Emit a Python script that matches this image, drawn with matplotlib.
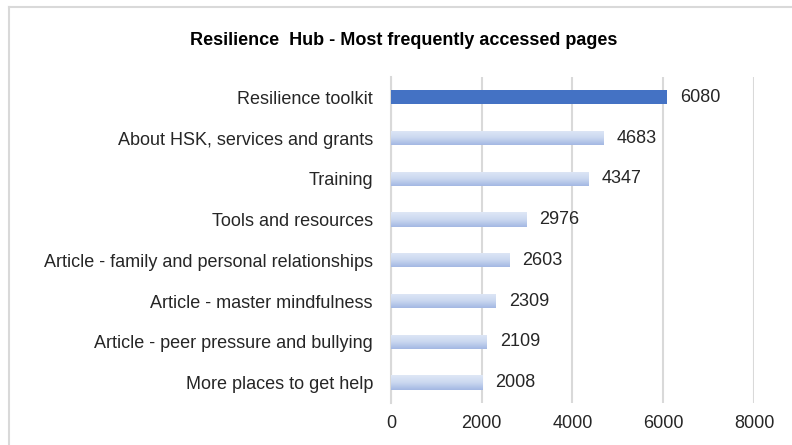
import numpy as np
import matplotlib
matplotlib.use("Agg")
import matplotlib.pyplot as plt
from matplotlib.lines import Line2D
from matplotlib.colors import LinearSegmentedColormap

plt.rcParams['font.family'] = ['Liberation Sans', 'DejaVu Sans']

pages = [
    "Resilience toolkit",
    "About HSK, services and grants",
    "Training",
    "Tools and resources",
    "Article - family and personal relationships",
    "Article - master mindfulness",
    "Article - peer pressure and bullying",
    "More places to get help",
]
views = [6080, 4683, 4347, 2976, 2603, 2309, 2109, 2008]
x_ticks = [0, 2000, 4000, 6000, 8000]

fig = plt.figure(figsize=(7.92, 4.45), dpi=100)
ax = fig.add_axes([0.4937, 0.0944, 0.4583, 0.7326])

ypos = np.arange(len(pages))
bar_h = 0.35
grad = LinearSegmentedColormap.from_list("g", ["#dfe7f6", "#cbd8f0", "#a3b8e3"])
gimg = np.linspace(0, 1, 64).reshape(-1, 1)

fs = 13

bars = ax.barh(ypos, views, height=bar_h, color="none", edgecolor="none", zorder=3)
for i, (b, v) in enumerate(zip(bars, views)):
    if i == 0:
        b.set_facecolor("#4472C4")
    else:
        im = ax.imshow(gimg, cmap=grad, aspect="auto", zorder=3,
                       extent=[0, v, i + bar_h / 2, i - bar_h / 2])
        im.set_clip_path(b)
    ax.text(v + 290, i, str(v), va="center", ha="left", fontsize=fs, color="#262626")

ax.set_ylim(len(pages) - 0.5, -0.5)
ax.set_xlim(0, 8000)
ax.set_xticks(x_ticks)
ax.set_yticks(ypos)
ax.set_yticklabels(pages, fontsize=fs, color="#262626")
ax.tick_params(axis="x", labelsize=fs, colors="#262626", length=0, pad=9)
ax.tick_params(axis="y", length=0, pad=13)
ax.grid(axis="x", color="#d9d9d9", linewidth=1.5, zorder=0)
for s in ["top", "right", "bottom"]:
    ax.spines[s].set_visible(False)
ax.spines["left"].set_color("#d9d9d9")
ax.spines["left"].set_linewidth(1.5)

fig.text(0.51, 0.91, "Resilience  Hub - Most frequently accessed pages",
         ha="center", va="center", fontsize=fs, fontweight="bold", color="#000000")

# outer chart frame
fig.add_artist(Line2D([9 / 792, 1], [1 - 7 / 445, 1 - 7 / 445], color="#d9d9d9", linewidth=1.5))
fig.add_artist(Line2D([9 / 792, 9 / 792], [0, 1 - 7 / 445], color="#d9d9d9", linewidth=1.5))

fig.savefig("out.png", dpi=100)
